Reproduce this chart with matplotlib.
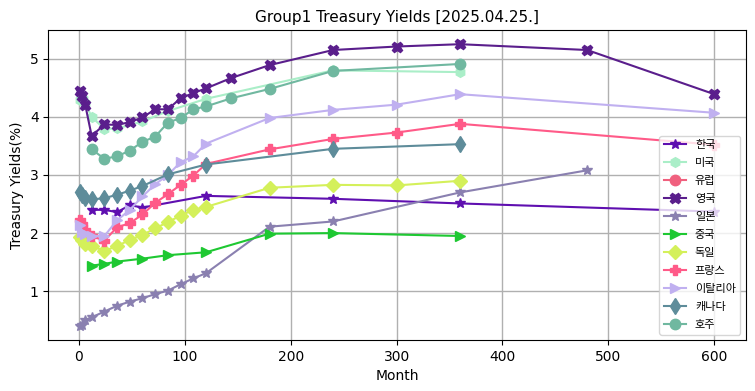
import matplotlib
matplotlib.use("Agg")
import matplotlib.pyplot as plt

plt.rcParams['font.family'] = ['DejaVu Sans', 'Noto Sans CJK KR']

kr_m = [12, 24, 36, 48, 60, 120, 240, 360, 600]
kr_v = [2.40, 2.40, 2.36, 2.48, 2.44, 2.64, 2.59, 2.51, 2.37]

us_m = [1, 2, 3, 4, 6, 12, 24, 36, 60, 84, 120, 240, 360]
us_v = [4.29, 4.31, 4.31, 4.30, 4.23, 4.00, 3.79, 3.80, 3.92, 4.10, 4.31, 4.80, 4.77]

eu_m = []
eu_v = []

uk_m = [1, 3, 6, 12, 24, 36, 48, 60, 72, 84, 96, 108, 120, 144, 180, 240, 300, 360, 480, 600]
uk_v = [4.45, 4.36, 4.20, 3.67, 3.87, 3.86, 3.91, 3.99, 4.13, 4.13, 4.32, 4.41, 4.49, 4.67, 4.89, 5.15, 5.21, 5.25, 5.15, 4.39]

jp_m = [1, 3, 6, 12, 24, 36, 48, 60, 72, 84, 96, 108, 120, 180, 240, 360, 480]
jp_v = [0.40, 0.42, 0.50, 0.55, 0.65, 0.75, 0.82, 0.88, 0.95, 1.01, 1.12, 1.22, 1.31, 2.11, 2.20, 2.70, 3.08]

cn_m = [12, 24, 36, 60, 84, 120, 180, 240, 360]
cn_v = [1.44, 1.47, 1.51, 1.56, 1.62, 1.67, 1.99, 2.00, 1.95]

de_m = [1, 3, 6, 12, 24, 36, 48, 60, 72, 84, 96, 108, 120, 180, 240, 300, 360]
de_v = [1.94, 1.88, 1.82, 1.78, 1.69, 1.78, 1.88, 1.97, 2.08, 2.19, 2.30, 2.40, 2.45, 2.78, 2.83, 2.82, 2.90]

fr_m = [1, 3, 6, 12, 24, 36, 48, 60, 72, 84, 96, 108, 120, 180, 240, 300, 360, 600]
fr_v = [2.22, 2.15, 2.05, 1.95, 1.87, 2.10, 2.17, 2.32, 2.52, 2.67, 2.83, 2.99, 3.19, 3.44, 3.62, 3.73, 3.88, 3.52]

it_m = [1, 3, 6, 12, 24, 36, 48, 60, 72, 84, 96, 108, 120, 180, 240, 300, 360, 600]
it_v = [2.14, 2.02, 1.98, 1.95, 1.95, 2.22, 2.40, 2.63, 2.84, 3.00, 3.22, 3.32, 3.54, 3.98, 4.12, 4.21, 4.39, 4.07]

ca_m = [1, 3, 6, 12, 24, 36, 48, 60, 84, 120, 240, 360]
ca_v = [2.70, 2.66, 2.60, 2.58, 2.60, 2.66, 2.73, 2.81, 3.01, 3.18, 3.45, 3.53]

au_m = [12, 24, 36, 48, 60, 72, 84, 96, 108, 120, 144, 180, 240, 360]
au_v = [3.44, 3.28, 3.32, 3.42, 3.57, 3.66, 3.90, 3.98, 4.13, 4.18, 4.32, 4.48, 4.79, 4.91]

series = [
    ("한국", kr_m, kr_v, "#5f0fb0", "*", 7),
    ("미국", us_m, us_v, "#aaeec8", "h", 7),
    ("유럽", eu_m, eu_v, "#f0607e", "o", 7.5),
    ("영국", uk_m, uk_v, "#5a1e8c", "X", 7.5),
    ("일본", jp_m, jp_v, "#8a80b0", "*", 7),
    ("중국", cn_m, cn_v, "#1ec832", ">", 7),
    ("독일", de_m, de_v, "#d4f05a", "D", 7.5),
    ("프랑스", fr_m, fr_v, "#ff5a88", "P", 7.5),
    ("이탈리아", it_m, it_v, "#c0b0f0", ">", 7.5),
    ("캐나다", ca_m, ca_v, "#5e8c9a", "d", 8.5),
    ("호주", au_m, au_v, "#70b8a0", "o", 7.5),
]

fig = plt.figure(figsize=(7.55, 3.91), dpi=100)
ax = fig.add_axes([0.064, 0.130, 0.924, 0.793])

for name, m, v, c, mk, ms in series:
    ax.plot(m, v, color=c, marker=mk, markersize=ms, linewidth=1.5, label=name)

ax.set_title("Group1 Treasury Yields [2025.04.25.]", fontsize=11)
ax.set_xlabel("Month", fontsize=10)
ax.set_ylabel("Treasury Yields(%)", fontsize=10)
ax.grid(True, color="#b0b0b0", linewidth=1.0)
ax.set_axisbelow(True)
ax.legend(loc="lower right", prop={'family': ['Noto Sans CJK KR', 'DejaVu Sans'], 'size': 8},
          handlelength=2.0, labelspacing=0.72, borderaxespad=0.5)

fig.savefig("out.png", dpi=100)
